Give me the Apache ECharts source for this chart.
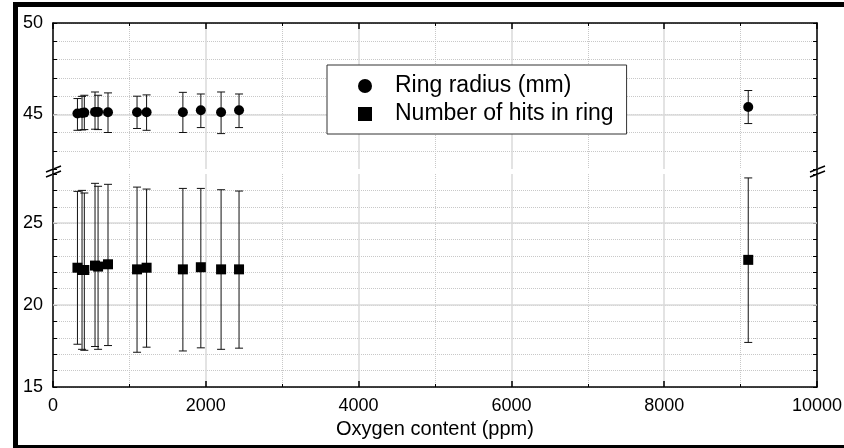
<!DOCTYPE html>
<html lang="en">
<head>
    <meta charset="UTF-8">
    <title>Ring radius and hits vs oxygen content</title>
    <style>
        html, body { margin: 0; padding: 0; background: #fff; }
    </style>
    <script src="https://cdn.jsdelivr.net/npm/echarts@6/dist/echarts.min.js"></script>
</head>
<body>
<div id="main" style="width:844px;height:448px"></div>
<script>
    // oxygen content (ppm), same for both series
    var oxygen = [320, 380, 410, 550, 590, 720, 1100, 1225, 1700, 1935, 2200, 2435, 9100];

    // ring radius (mm) and its error bar ends
    var radius = [45.04, 45.07, 45.09, 45.13, 45.13, 45.11, 45.11, 45.11, 45.11, 45.22, 45.11, 45.22, 45.40];
    var radiusLow = [44.12, 44.14, 44.16, 44.18, 44.16, 44.00, 44.22, 44.12, 44.00, 44.27, 43.94, 44.27, 44.49];
    var radiusHigh = [45.86, 45.98, 46.04, 46.22, 46.04, 46.17, 45.99, 46.06, 46.20, 46.11, 46.22, 46.11, 46.30];

    // number of hits in ring and its error bar ends
    var hits = [22.28, 22.14, 22.14, 22.41, 22.35, 22.49, 22.18, 22.28, 22.18, 22.31, 22.18, 22.18, 22.76];
    var hitsLow = [17.61, 17.30, 17.24, 17.47, 17.30, 17.53, 17.12, 17.43, 17.20, 17.39, 17.30, 17.37, 17.72];
    var hitsHigh = [26.94, 27.00, 26.84, 27.43, 27.25, 27.37, 27.20, 27.08, 27.12, 27.12, 27.04, 26.96, 27.76];

    var topLabels = [45, 50];
    var bottomLabels = [15, 20, 25];

    var font = "'Liberation Sans', Arial, sans-serif";

    function pairs(xs, ys) {
        return xs.map(function (x, i) { return [x, ys[i]]; });
    }
    function bars(xs, lo, hi) {
        return xs.map(function (x, i) { return [x, lo[i], hi[i]]; });
    }

    function errBar(params, api) {
        var x = api.value(0);
        var a = api.coord([x, api.value(2)]);
        var b = api.coord([x, api.value(1)]);
        var w = 4;
        var st = { stroke: '#111', lineWidth: 1 };
        return {
            type: 'group',
            children: [
                { type: 'line', shape: { x1: a[0], y1: a[1], x2: b[0], y2: b[1] }, style: st },
                { type: 'line', shape: { x1: a[0] - w, y1: a[1], x2: a[0] + w, y2: a[1] }, style: st },
                { type: 'line', shape: { x1: b[0] - w, y1: b[1], x2: b[0] + w, y2: b[1] }, style: st }
            ]
        };
    }

    function xAxis(grid, pos, labels) {
        return {
            type: 'value', gridIndex: grid, position: pos,
            min: 0, max: 10000, interval: 2000,
            name: labels ? 'Oxygen content (ppm)' : '',
            nameLocation: 'middle', nameGap: 32,
            nameTextStyle: { fontSize: 20, color: '#000', fontFamily: font },
            axisLine: { lineStyle: { color: '#000', width: 1.5 } },
            axisTick: { inside: true, length: 6, lineStyle: { color: '#000', width: 1.5 } },
            minorTick: { show: true, splitNumber: 2, length: 3, lineStyle: { color: '#000', width: 1 } },
            axisLabel: {
                show: labels, fontSize: 18, color: '#000', fontFamily: font, margin: 10,
                formatter: function (v) { return String(v); }
            },
            splitLine: { show: true, lineStyle: { color: '#dadada', width: 1.5 } },
            minorSplitLine: { show: true, lineStyle: { color: '#c8c8c8', type: 'dotted', width: 1 } }
        };
    }

    function yAxis(grid, pos, min, max, labels, edge) {
        var ax = {
            type: 'value', gridIndex: grid, position: pos,
            min: min, max: max, interval: 1,
            axisLine: { onZero: false, lineStyle: { color: '#000', width: 1.5 } },
            axisTick: { inside: true, length: 4, lineStyle: { color: '#000', width: 1 } },
            axisLabel: {
                show: !!labels, fontSize: 18, color: '#000', fontFamily: font, margin: 10,
                formatter: function (v) { return labels && labels.indexOf(v) >= 0 ? String(v) : ''; }
            },
            splitLine: { show: false }
        };
        if (labels) {
            ax.splitLine = { show: true, lineStyle: { color: '#c8c8c8', type: 'dotted', width: 1 } };
            ax.splitLine[edge] = false;
        }
        return ax;
    }

    var chart = echarts.init(document.getElementById('main'));
    chart.setOption({
        animation: false,
        backgroundColor: '#fff',
        grid: [
            { left: 53, right: 27, top: 23, height: 146, outerBoundsMode: 'none' },
            { left: 53, right: 27, top: 174, height: 213, outerBoundsMode: 'none' }
        ],
        xAxis: [xAxis(0, 'top', false), xAxis(1, 'bottom', true)],
        yAxis: [
            yAxis(0, 'left', 42, 50, topLabels, 'showMinLine'),
            yAxis(0, 'right', 42, 50, null),
            yAxis(1, 'left', 15, 28, bottomLabels, 'showMaxLine'),
            yAxis(1, 'right', 15, 28, null)
        ],
        legend: {
            data: ['Ring radius (mm)', 'Number of hits in ring'],
            orient: 'vertical', left: 327, top: 65, z: 10,
            padding: [9, 13, 8, 31],
            itemWidth: 14, itemHeight: 14, itemGap: 4,
            borderColor: '#333', borderWidth: 1, backgroundColor: '#fff',
            selectedMode: false,
            textStyle: { fontSize: 23, lineHeight: 24, color: '#000', fontFamily: font, padding: [0, 0, 0, 18] }
        },
        series: [
            {
                type: 'line', xAxisIndex: 0, yAxisIndex: 0, data: [], silent: true, z: 1,
                markLine: {
                    silent: true, symbol: 'none', label: { show: false }, z: 1,
                    lineStyle: { color: '#dadada', width: 1.5, type: 'solid' },
                    data: [{ yAxis: 45 }]
                }
            },
            {
                type: 'line', xAxisIndex: 1, yAxisIndex: 2, data: [], silent: true, z: 1,
                markLine: {
                    silent: true, symbol: 'none', label: { show: false }, z: 1,
                    lineStyle: { color: '#dadada', width: 1.5, type: 'solid' },
                    data: [{ yAxis: 20 }, { yAxis: 25 }]
                }
            },
            {
                type: 'custom', xAxisIndex: 0, yAxisIndex: 0, z: 3,
                renderItem: errBar, encode: { x: 0, y: [1, 2] },
                data: bars(oxygen, radiusLow, radiusHigh)
            },
            {
                type: 'custom', xAxisIndex: 1, yAxisIndex: 2, z: 3,
                renderItem: errBar, encode: { x: 0, y: [1, 2] },
                data: bars(oxygen, hitsLow, hitsHigh)
            },
            {
                name: 'Ring radius (mm)', type: 'scatter', xAxisIndex: 0, yAxisIndex: 0, z: 5,
                symbol: 'circle', symbolSize: 10, itemStyle: { color: '#000', opacity: 1 },
                data: pairs(oxygen, radius)
            },
            {
                name: 'Number of hits in ring', type: 'scatter', xAxisIndex: 1, yAxisIndex: 2, z: 5,
                symbol: 'rect', symbolSize: 10, itemStyle: { color: '#000', opacity: 1 },
                data: pairs(oxygen, hits)
            }
        ],
        graphic: [
            // outer frame
            { type: 'rect', shape: { x: 13, y: 2, width: 840, height: 5 }, style: { fill: '#000' } },
            { type: 'rect', shape: { x: 13, y: 2, width: 5, height: 446 }, style: { fill: '#000' } },
            { type: 'rect', shape: { x: 13, y: 445, width: 840, height: 3 }, style: { fill: '#000' } },
            // axis break marks
            { type: 'line', shape: { x1: 53, y1: 168, x2: 53, y2: 175 }, style: { stroke: '#000', lineWidth: 1.5 } },
            { type: 'line', shape: { x1: 46, y1: 172, x2: 61, y2: 166 }, style: { stroke: '#000', lineWidth: 1.5 } },
            { type: 'line', shape: { x1: 46, y1: 177, x2: 61, y2: 171 }, style: { stroke: '#000', lineWidth: 1.5 } },
            { type: 'line', shape: { x1: 817, y1: 168, x2: 817, y2: 175 }, style: { stroke: '#000', lineWidth: 1.5 } },
            { type: 'line', shape: { x1: 810, y1: 172, x2: 825, y2: 166 }, style: { stroke: '#000', lineWidth: 1.5 } },
            { type: 'line', shape: { x1: 810, y1: 177, x2: 825, y2: 171 }, style: { stroke: '#000', lineWidth: 1.5 } }
        ]
    });
</script>
</body>
</html>
